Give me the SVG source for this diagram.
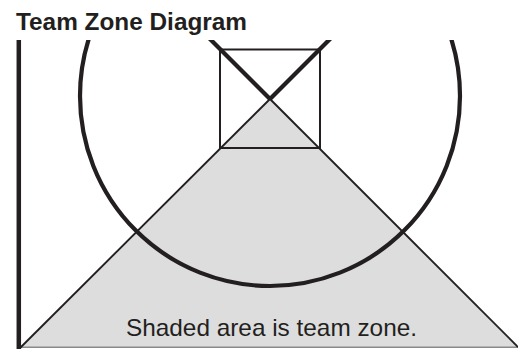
<svg xmlns="http://www.w3.org/2000/svg" width="518" height="349" viewBox="0 0 518 349">
  <style>
    .ink { stroke: #231f20; fill: none; }
    .title { font-family: "Liberation Sans", Arial, sans-serif; font-weight: bold; font-size: 24px; fill: #231f20; }
    .label { font-family: "Liberation Sans", Arial, sans-serif; font-size: 24px; fill: #231f20; }
  </style>
  <defs>
    <clipPath id="top-cut">
      <rect x="0" y="40" width="518" height="309"/>
    </clipPath>
  </defs>
  <rect x="0" y="0" width="518" height="349" fill="#ffffff"/>
  <text class="title" x="16" y="29.5" textLength="231" lengthAdjust="spacingAndGlyphs">Team Zone Diagram</text>
  <g id="zone">
    <polygon points="270,99 21,347 517,347" fill="#dddddd"/>
    <line x1="19" y1="347.2" x2="518" y2="347.2" stroke="#8a8a8a" stroke-width="1.6"/>
    <line class="ink" x1="270" y1="99" x2="20" y2="348" stroke-width="1.9"/>
    <line class="ink" x1="270" y1="99" x2="518" y2="347" stroke-width="1.9"/>
  </g>
  <g id="circle" clip-path="url(#top-cut)">
    <circle class="ink" cx="270" cy="96" r="190" stroke-width="4.2"/>
  </g>
  <g id="box">
    <rect class="ink" x="220" y="49.5" width="100" height="98.5" stroke-width="2"/>
  </g>
  <g id="cross" clip-path="url(#top-cut)">
    <line class="ink" x1="270" y1="99" x2="208" y2="37" stroke-width="4.2"/>
    <line class="ink" x1="270" y1="99" x2="332" y2="37" stroke-width="4.2"/>
  </g>
  <g id="sideline">
    <line class="ink" x1="18.8" y1="40" x2="18.8" y2="349" stroke-width="4.5"/>
  </g>
  <text class="label" x="126" y="336" textLength="291" lengthAdjust="spacingAndGlyphs">Shaded area is team zone.</text>
</svg>
